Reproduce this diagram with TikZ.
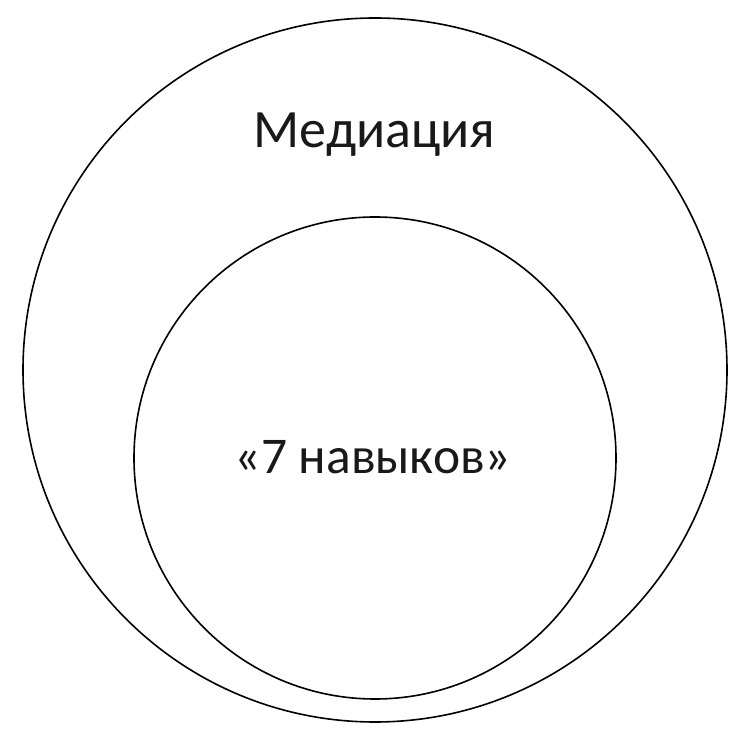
\documentclass[tikz,border=0pt]{standalone}
\usepackage{fontspec}
\setmainfont{Carlito}
\begin{document}
\begin{tikzpicture}[x=1pt,y=1pt,
  ring/.style={draw=black,line width=1.6pt},
  lbl/.style={anchor=base,inner sep=0pt,text=black!90}]
\useasboundingbox (0,0) rectangle (750,739);
\fill[white] (0,0) rectangle (750,739);
\draw[ring] (375,369) circle[radius=352] coordinate (outer);
\draw[ring] (375,281) circle[radius=241] coordinate (inner);
\node[lbl,font=\fontsize{54}{60}\selectfont] (med) at (374.5,591.7) {Медиация};
\node[lbl,font=\fontsize{51.5}{58}\selectfont] (nav) at (373,265.7) {«7 навыков»};
\end{tikzpicture}
\end{document}
